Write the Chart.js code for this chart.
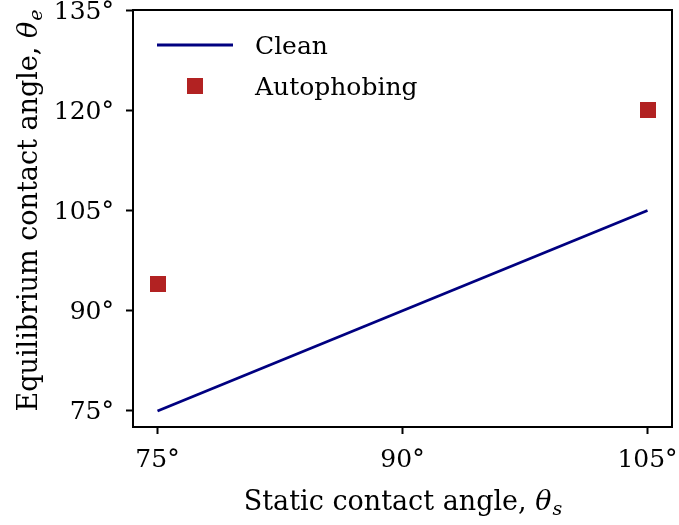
<!DOCTYPE html>
<html>
<head>
<meta charset="utf-8">
<script src="https://cdn.jsdelivr.net/npm/chart.js@4/dist/chart.umd.min.js"></script>
<style>
  html, body { margin: 0; padding: 0; background: #ffffff; }
  #wrap { width: 679px; height: 525px; }
</style>
</head>
<body>
<div id="wrap"><canvas id="c" width="679" height="525"></canvas></div>
<script>
// Static vs. equilibrium contact angle (degrees)
const cleanX = [75, 105];
const cleanY = [75, 105];
const autoX = [75, 105];
const autoY = [94, 120];
const xTicks = [75, 90, 105];
const yTicks = [75, 90, 105, 120, 135];
const seriesNames = ['Clean', 'Autophobing'];
const xTitle = ['Static contact angle, ', 'θ', 's'];
const yTitle = ['Equilibrium contact angle, ', 'θ', 'e'];

const FONT = '"DejaVu Serif", "Liberation Serif", serif';
const TICK_SIZE = 25;
const TITLE_SIZE = 27;
const LEGEND_SIZE = 25;
const NAVY = '#000080';
const RED = '#b22222';
const MARKER = 16;

// Square marker sprite used as the point style of the Autophobing series
const squareMarker = document.createElement('canvas');
squareMarker.width = MARKER;
squareMarker.height = MARKER;
(() => {
  const g = squareMarker.getContext('2d');
  g.fillStyle = RED;
  g.fillRect(0, 0, MARKER, MARKER);
})();

const framePlugin = {
  id: 'frame',
  afterDatasetsDraw(chart) {
    const { ctx, chartArea: a } = chart;
    ctx.save();
    ctx.strokeStyle = '#000';
    ctx.lineWidth = 2;
    ctx.strokeRect(a.left, a.top, a.right - a.left, a.bottom - a.top);
    ctx.restore();
  }
};

// Draws "plain text + italic symbol + italic subscript", centred on (0,0)
function drawMathTitle(ctx, parts, size) {
  const reg = size + 'px ' + FONT;
  const ita = 'italic ' + size + 'px ' + FONT;
  const sub = 'italic ' + Math.round(size * 0.7) + 'px ' + FONT;
  ctx.font = reg; const w0 = ctx.measureText(parts[0]).width;
  ctx.font = ita; const w1 = ctx.measureText(parts[1]).width;
  ctx.font = sub; const w2 = ctx.measureText(parts[2]).width;
  let x = -(w0 + w1 + w2) / 2;
  ctx.textAlign = 'left';
  ctx.textBaseline = 'alphabetic';
  ctx.font = reg; ctx.fillText(parts[0], x, 0); x += w0;
  ctx.font = ita; ctx.fillText(parts[1], x, 0); x += w1;
  ctx.font = sub; ctx.fillText(parts[2], x + 1, 5);
}

const titlePlugin = {
  id: 'mathTitles',
  afterDraw(chart) {
    const { ctx, chartArea: a } = chart;
    ctx.save();
    ctx.fillStyle = '#000';
    ctx.translate((a.left + a.right) / 2, 510);
    drawMathTitle(ctx, xTitle, TITLE_SIZE);
    ctx.restore();
    ctx.save();
    ctx.fillStyle = '#000';
    ctx.translate(37, 211);
    ctx.rotate(-Math.PI / 2);
    drawMathTitle(ctx, yTitle, TITLE_SIZE);
    ctx.restore();
  }
};

// Vertical legend in the upper-left corner of the plot
const legendPlugin = {
  id: 'vlegend',
  afterDraw(chart) {
    const { ctx, chartArea: a } = chart;
    ctx.save();
    ctx.font = LEGEND_SIZE + 'px ' + FONT;
    ctx.fillStyle = '#000';
    ctx.textBaseline = 'middle';
    const x0 = a.left + 24, y0 = a.top + 35, gap = 41;
    ctx.strokeStyle = NAVY;
    ctx.lineWidth = 2.8;
    ctx.beginPath();
    ctx.moveTo(x0, y0);
    ctx.lineTo(x0 + 76, y0);
    ctx.stroke();
    ctx.fillText(seriesNames[0], x0 + 98, y0 + 2);
    ctx.drawImage(squareMarker, x0 + 38 - MARKER / 2, y0 + gap - MARKER / 2);
    ctx.fillText(seriesNames[1], x0 + 98, y0 + gap + 2);
    ctx.restore();
  }
};

new Chart(document.getElementById('c'), {
  type: 'scatter',
  data: {
    datasets: [
      {
        label: seriesNames[0],
        type: 'line',
        data: cleanX.map((x, i) => ({ x, y: cleanY[i] })),
        borderColor: NAVY,
        borderWidth: 2.8,
        pointRadius: 0,
        fill: false
      },
      {
        label: seriesNames[1],
        data: autoX.map((x, i) => ({ x, y: autoY[i] })),
        pointStyle: squareMarker,
        pointRadius: 1,
        pointHoverRadius: 1,
        backgroundColor: RED,
        borderColor: RED,
        borderWidth: 0
      }
    ]
  },
  options: {
    responsive: false,
    animation: false,
    layout: { padding: { top: 10, right: 7, left: 0, bottom: 0 } },
    plugins: { legend: { display: false }, tooltip: { enabled: false } },
    scales: {
      x: {
        type: 'linear',
        min: 73.5,
        max: 106.5,
        afterBuildTicks: s => { s.ticks = xTicks.map(v => ({ value: v })); },
        afterFit: s => { s.height = 98; s.paddingLeft = 0; s.paddingRight = 0; },
        grid: { drawOnChartArea: false, drawTicks: true, tickLength: 7, tickWidth: 2, tickColor: '#000' },
        border: { display: false },
        ticks: {
          color: '#000', font: { family: FONT, size: TICK_SIZE }, padding: 11,
          maxRotation: 0, callback: v => v + '°'
        },
        title: { display: false }
      },
      y: {
        type: 'linear',
        min: 72.6,
        max: 135,
        afterBuildTicks: s => { s.ticks = yTicks.map(v => ({ value: v })); },
        afterFit: s => { s.width = 133; s.paddingTop = 0; s.paddingBottom = 0; },
        grid: { drawOnChartArea: false, drawTicks: true, tickLength: 7, tickWidth: 2, tickColor: '#000' },
        border: { display: false },
        ticks: {
          color: '#000', font: { family: FONT, size: TICK_SIZE }, padding: 12,
          labelOffset: 2, callback: v => v + '°'
        },
        title: { display: false }
      }
    }
  },
  plugins: [framePlugin, titlePlugin, legendPlugin]
});
</script>
</body>
</html>
